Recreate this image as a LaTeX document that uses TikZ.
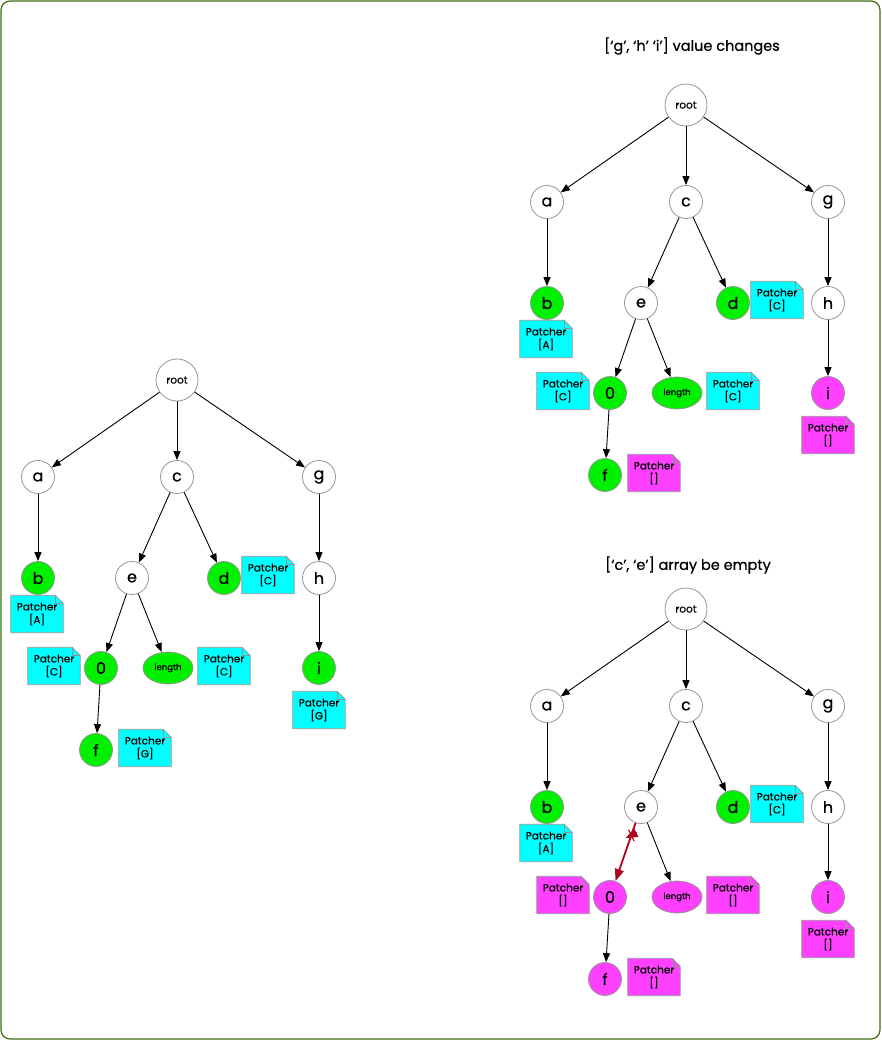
\documentclass[tikz,border=0pt]{standalone}
\usepackage{fontspec}
\setmainfont{Poppins}[FakeBold=0.6]
\usepackage{tikz}
\usetikzlibrary{shapes.geometric,arrows.meta,backgrounds,decorations.markings}
\definecolor{framegreen}{RGB}{60,110,20}
\definecolor{leafgreen}{RGB}{0,240,0}
\definecolor{patchcyan}{RGB}{0,255,255}
\definecolor{patchpink}{RGB}{255,64,255}
\definecolor{rimgrey}{RGB}{150,150,150}
\definecolor{cutred}{RGB}{176,0,32}
% one "Patcher" note: name, position, fill, content
\newcommand{\patchnote}[4]{%
  \node[note] (#1) at #2 {Patcher\\{}#4};
  \begin{scope}[on background layer]
    \filldraw[noteline, fill=#3] (#1.south west) -- (#1.north west) -- ([xshift=-8pt]#1.north east)
      -- ([yshift=-8pt]#1.north east) -- (#1.south east) -- cycle;
  \end{scope}
  \draw[noteline] ([xshift=-8pt]#1.north east) |- ([yshift=-8pt]#1.north east);
}
% whole tree: fill of 0/length/f, fill of i, note fill + text of 0/length, note fill + text of i/f, style of e->0
\newcommand{\patchtree}[7]{%
  \node[vertex, minimum size=42pt, font=\fontsize{10.5}{11}\selectfont] (root) at (177,380) {root};
  \node[vertex] (a) at (38,477) {a};
  \node[vertex] (c) at (177,477) {c};
  \node[vertex] (g) at (319,477) {g};
  \node[vertex, fill=leafgreen] (b) at (38,578) {b};
  \node[vertex] (e) at (132,578) {e};
  \node[vertex, fill=leafgreen] (d) at (224,578) {d};
  \node[vertex] (h) at (319,578) {h};
  \node[vertex, fill=#1] (zero) at (101,668) {0};
  \node[keyleaf, fill=#1] (length) at (168,668) {length};
  \node[vertex, fill=#2] (i) at (319,668) {i};
  \node[vertex, fill=#1] (f) at (96,750) {f};
  % edges
  \draw[edge] (root) -- (a);
  \draw[edge] (root) -- (c);
  \draw[edge] (root) -- (g);
  \draw[edge] (a) -- (b);
  \draw[edge] (c) -- (e);
  \draw[edge] (c) -- (d);
  \draw[edge] (g) -- (h);
  \draw[#7] (e) -- (zero);
  \draw[edge] (e) -- (length);
  \draw[edge] (h) -- (i);
  \draw[edge] (zero) -- (f);
  % patcher notes
  \patchnote{bnote}{(37,614)}{patchcyan}{[A]}
  \patchnote{dnote}{(268,575)}{patchcyan}{[C]}
  \patchnote{zeronote}{(54,666)}{#3}{#4}
  \patchnote{lengthnote}{(224,666)}{#3}{#4}
  \patchnote{inote}{(319,710)}{#5}{#6}
  \patchnote{fnote}{(145,748)}{#5}{#6}
}

\begin{document}
\begin{tikzpicture}[x=1pt, y=-1pt,
    vertex/.style={circle, draw=rimgrey, line width=0.8pt, fill=white, minimum size=33pt,
                   inner sep=0pt, font=\fontsize{16}{16}\selectfont},
    keyleaf/.style={ellipse, draw=rimgrey, line width=0.8pt, minimum width=50pt, minimum height=32pt,
                    inner sep=0pt, font=\fontsize{8.5}{9}\selectfont},
    note/.style={rectangle, minimum width=52pt, minimum height=37pt, inner sep=0pt, align=center,
                 font=\fontsize{10.5}{13}\selectfont},
    noteline/.style={draw=rimgrey, line width=0.8pt, line join=miter},
    edge/.style={draw=black, line width=0.9pt, -{Triangle[length=9pt,width=7pt]}},
    cutedge/.style={draw=cutred, line width=1.8pt, -{Triangle[length=12pt,width=9pt]},
                    postaction={decorate, decoration={markings, mark=at position 13pt with
                      {\draw[cutred, line width=1.2pt] (-4.5pt,-4.5pt) -- (4.5pt,4.5pt) (-4.5pt,4.5pt) -- (4.5pt,-4.5pt);}}}},
    caption/.style={font=\fontsize{14.5}{16}\selectfont}]
\useasboundingbox (0,0) rectangle (882,1041);
% frame
\draw[framegreen, line width=1.2pt, rounded corners=9pt] (1,1) rectangle (880,1039);
% left tree
\begin{scope}[name prefix=left-]
  \patchtree{leafgreen}{leafgreen}{patchcyan}{[C]}{patchcyan}{[G]}{edge}
\end{scope}
% top right tree
\node[caption] (topcap) at (692,46) {[‘g’, ‘h’ ‘i’] value changes};
\begin{scope}[shift={(509,-275)}, name prefix=top-]
  \patchtree{leafgreen}{patchpink}{patchcyan}{[C]}{patchpink}{[]}{edge}
\end{scope}
% bottom right tree
\node[caption] (bottomcap) at (688,565) {[‘c’, ‘e’] array be empty};
\begin{scope}[shift={(509,229)}, name prefix=bottom-]
  \patchtree{patchpink}{patchpink}{patchpink}{[]}{patchpink}{[]}{cutedge}
\end{scope}
\end{tikzpicture}
\end{document}
